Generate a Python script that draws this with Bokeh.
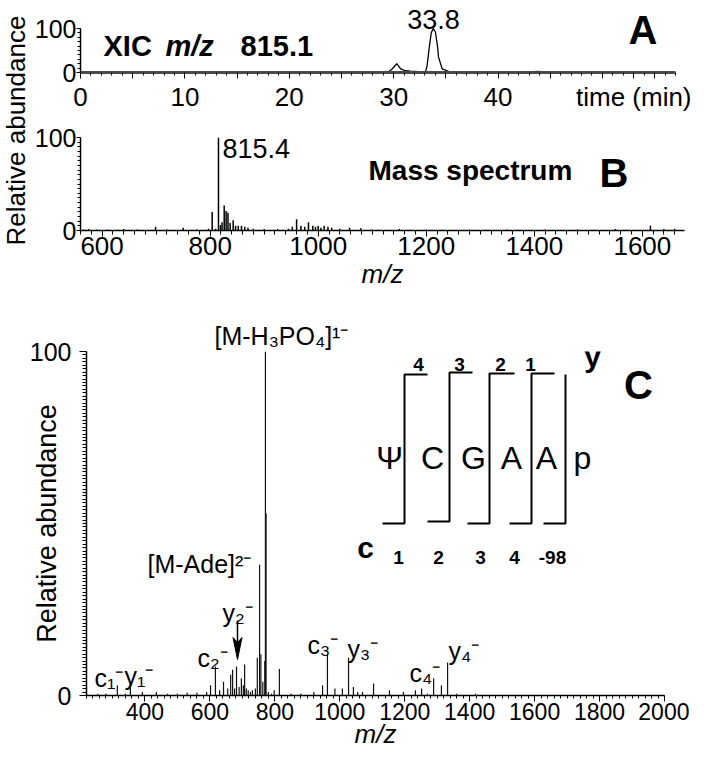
import math
from bokeh.plotting import figure
from bokeh.layouts import column, row
from bokeh.models import Range1d, FixedTicker, Label, ColumnDataSource, Title
from bokeh.embed import file_html
from bokeh.resources import INLINE

FONT = "Liberation Sans"

# ---------------- data ----------------
# Panel A: extracted ion chromatogram m/z 815.1
xic_time = [0, 5.0, 5.4, 5.8, 6.2, 27.0, 29.0, 29.5, 29.85, 30.3, 30.65, 31.1, 31.6, 32.4, 33.05,
            33.2, 33.4, 33.6, 33.8, 34.0, 34.2, 34.3, 34.65, 35.3, 36.0, 41.5, 42.3, 43.0, 43.8,
            44.5, 45.5, 57.0]
xic_intensity = [0, 0, 2, 1, 0, 0, 0.5, 1, 8, 20, 9, 4, 3, 2, 2,
                 15, 55, 90, 100, 92, 60, 35, 8, 2, 0.5, 0.5, 2, 1.5, 2.5,
                 1.5, 0.5, 0]
xic_ticks = [0, 10, 20, 30, 40]

# Panel B: mass spectrum
ms_mz = [566, 575, 590, 610, 640, 665, 699, 720, 750, 775, 797, 803.7, 810, 815.4, 819, 822,
         826, 829.5, 833, 837, 842.6, 847, 852, 858, 864, 870, 880, 900, 925, 945, 952, 960,
         968, 975, 982, 990, 995, 1000, 1005, 1011, 1018, 1025, 1040, 1058, 1079, 1100, 1150,
         1200, 1280, 1350, 1420, 1480, 1550, 1615, 1640, 1660]
ms_intensity = [1, 1.5, 1, 1, 1.5, 1, 4, 1, 3, 1, 2, 20, 2, 100, 6, 9,
                27, 21, 19, 8, 11, 5, 5, 5, 4, 3, 2, 1.5, 1.5, 2, 4, 12,
                5, 4, 9, 5, 4, 5, 3, 5, 4, 3, 2, 3, 2.5, 1, 1.5,
                1, 1, 1, 1, 1, 1.5, 5, 1.5, 2]
ms_ticks = [600, 800, 1000, 1200, 1400, 1600]

# Panel C: MS/MS spectrum
msms_mz = [255, 280, 315, 340, 355, 392, 435, 470, 500, 530, 560, 590, 602, 617, 630, 642,
           655, 664, 670, 676, 682, 690, 697, 703, 707, 712, 718, 725, 731, 740, 746, 753,
           757, 763, 769, 771, 773, 780, 790, 798, 814, 850, 880, 920, 947, 962, 985, 1008,
           1027, 1042, 1055, 1070, 1104, 1153, 1196, 1233, 1252, 1270, 1289, 1313, 1332, 1360,
           1418]
msms_intensity = [0.5, 0.5, 3, 0.5, 4, 1, 1, 0.5, 0.5, 0.8, 0.8, 1, 3, 8.4, 1.5, 4,
                  2, 6, 7.5, 2, 8.4, 2.5, 5, 3, 9, 2, 1.5, 1, 1.5, 2, 11, 38,
                  12, 4, 10, 100, 53, 1, 0.5, 1.5, 7.7, 0.5, 0.5, 1, 3, 12, 2, 2,
                  11, 2.5, 1, 1, 3.5, 1.5, 1, 1.5, 2, 0.5, 5, 3, 9.6, 0.5,
                  0.5]
msms_ticks = [400, 600, 800, 1000, 1200, 1400, 1600, 1800, 2000]

STRIP_W = 31
TOP_H = 317


def mapper(left, top, w, h, x0, x1, y0, y1):
    """page pixel -> data coordinates for a frame (y0 at bottom, y1 at top)"""
    def f(px, py):
        return (x0 + (px - left) * (x1 - x0) / w,
                y1 - (py - top) * (y1 - y0) / h)
    return f


def base_fig(fw, fh, xr, yr, left, right, top, bottom):
    p = figure(frame_width=fw, frame_height=fh, x_range=Range1d(*xr), y_range=Range1d(*yr),
               output_backend="svg", toolbar_location=None,
               min_border_left=left, min_border_right=right,
               min_border_top=top, min_border_bottom=bottom)
    p.grid.visible = False
    p.outline_line_color = None
    p.background_fill_color = "white"
    p.border_fill_color = "white"
    for ax in (p.xaxis[0], p.yaxis[0]):
        ax.axis_line_color = "black"
        ax.axis_line_width = 1.5
        ax.major_tick_line_color = "black"
        ax.minor_tick_line_color = "black"
        ax.major_tick_in = 0
        ax.minor_tick_in = 0
        ax.major_label_text_font = FONT
        ax.major_label_text_color = "black"
        ax.axis_label_text_font = FONT
        ax.axis_label_text_color = "black"
    return p


def add_text(p, m, px, py, text, size, style="normal", align="left",
             baseline="alphabetic", angle=0.0):
    x, y = m(px, py)
    p.add_layout(Label(x=x, y=y, text=text, text_font=FONT,
                       text_font_size=f"{size}px", text_font_style=style,
                       text_align=align, text_baseline=baseline, angle=angle,
                       text_color="black"))


# ---------------- Panel A ----------------
A_TOP = 163.64  # frame extends up to canvas top; axis limited to 0..100
pa = base_fig(595, 72, (0, 57), (0, A_TOP), 46, 17, 0, 45)
mA = mapper(85, 8, 595, 72, 0, 57, 0, A_TOP)
pa.line(xic_time, xic_intensity, line_color="black", line_width=1.3)
a_major = list(range(0, 56, 5)) + [53]
pa.xaxis.ticker = FixedTicker(ticks=a_major, minor_ticks=list(range(0, 58)))
overrides = {t: "" for t in a_major if t not in xic_ticks}
overrides[53] = "time (min)"
pa.xaxis.major_label_overrides = overrides
pa.xaxis.axis_line_width = 3
pa.xaxis.axis_line_color = "#4a4a4a"
pa.xaxis.major_tick_out = 6
pa.xaxis.minor_tick_out = 3
pa.xaxis.major_label_standoff = 3
pa.xaxis.major_label_text_font_size = "26px"
pa.yaxis.bounds = (0, 100)
pa.yaxis.ticker = FixedTicker(ticks=[0, 100], minor_ticks=list(range(0, 101, 10)))
pa.yaxis.major_tick_out = 4
pa.yaxis.minor_tick_out = 3
pa.yaxis.major_label_standoff = 0
pa.yaxis.major_label_text_font_size = "25px"

add_text(pa, mA, 108, 53, "XIC", 29, "bold")
add_text(pa, mA, 170, 53, "m/z", 29, "bold italic")
add_text(pa, mA, 245, 53, "815.1", 29, "bold")
add_text(pa, mA, 438, 27, "33.8", 27, align="center")
add_text(pa, mA, 633, 37, "A", 40, "bold")

# ---------------- Panel B ----------------
pb = base_fig(604, 93, (560, 1678), (0, 100), 46, 8, 20, 87)
mB = mapper(85, 145, 604, 93, 560, 1678, 0, 100)
srcB = ColumnDataSource(dict(x=ms_mz, y0=[0] * len(ms_mz), y1=ms_intensity))
pb.segment(x0="x", y0="y0", x1="x", y1="y1", source=srcB, line_color="black", line_width=1.5)
pb.xaxis.ticker = FixedTicker(ticks=ms_ticks, minor_ticks=list(range(560, 1680, 20)))
pb.xaxis.major_tick_out = 6
pb.xaxis.minor_tick_out = 4
pb.xaxis.major_label_standoff = 0
pb.xaxis.major_label_text_font_size = "26px"
pb.xaxis.axis_label = "m/z"
pb.xaxis.axis_label_text_font_size = "26px"
pb.xaxis.axis_label_text_font_style = "italic"
pb.xaxis.axis_label_standoff = 1
pb.yaxis.ticker = FixedTicker(ticks=[0, 100], minor_ticks=list(range(0, 101, 5)))
pb.yaxis.major_tick_out = 4
pb.yaxis.minor_tick_out = 3
pb.yaxis.major_label_standoff = 0
pb.yaxis.major_label_text_font_size = "25px"

add_text(pb, mB, 227, 156, "815.4", 27)
add_text(pb, mB, 373, 178, "Mass spectrum", 28, "bold")
add_text(pb, mB, 604, 180, "B", 40, "bold")

# ---------------- Panel C ----------------
pc = base_fig(578, 344, (220, 2000), (0, 100), 86, 25, 34, 58)
mC = mapper(94, 359, 578, 344, 220, 2000, 0, 100)
srcC = ColumnDataSource(dict(x=msms_mz, y0=[0] * len(msms_mz), y1=msms_intensity))
pc.segment(x0="x", y0="y0", x1="x", y1="y1", source=srcC, line_color="#111111", line_width=1.2)
pc.xaxis.ticker = FixedTicker(ticks=msms_ticks, minor_ticks=list(range(220, 2001, 20)))
pc.xaxis.major_tick_out = 6
pc.xaxis.minor_tick_out = 3
pc.xaxis.major_label_standoff = 1
pc.xaxis.major_label_text_font_size = "23px"
pc.xaxis.axis_label = "m/z"
pc.xaxis.axis_label_text_font_size = "26px"
pc.xaxis.axis_label_text_font_style = "italic"
pc.xaxis.axis_label_standoff = -4
pc.yaxis.ticker = FixedTicker(ticks=[0, 100], minor_ticks=list(range(0, 101, 1)))
pc.yaxis.major_tick_out = 7
pc.yaxis.minor_tick_out = 4
pc.yaxis.major_label_standoff = 8
pc.yaxis.major_label_text_font_size = "25px"
pc.yaxis.axis_label = "Relative abundance"
pc.yaxis.axis_label_text_font_size = "27px"
pc.yaxis.axis_label_text_font_style = "normal"
pc.yaxis.axis_label_standoff = -35

# label above the frame
pc.add_layout(Title(text="[M-H\u2083PO\u2084]\u00b9\u207b", align="left", offset=128,
                    vertical_align="bottom", standoff=3, text_font=FONT,
                    text_font_size="25px", text_font_style="normal", text_color="black"),
              "above")

# peak annotations
add_text(pc, mC, 155, 571, "[M-Ade]\u00b2\u207b", 25)
add_text(pc, mC, 230, 620, "y\u2082\u207b", 25)
add_text(pc, mC, 205, 665, "c\u2082\u207b", 25)
add_text(pc, mC, 102, 685, "c\u2081\u207b", 25)
add_text(pc, mC, 132, 683, "y\u2081\u207b", 25)
add_text(pc, mC, 315, 652, "c\u2083\u207b", 25)
add_text(pc, mC, 355, 656, "y\u2083\u207b", 25)
add_text(pc, mC, 417, 680, "c\u2084\u207b", 25)
add_text(pc, mC, 456, 658, "y\u2084\u207b", 25)

# arrow pointing at y2 peak
ax0, ay0 = mC(245, 628)
ax1, ay1 = mC(245, 650)
pc.segment(x0=[ax0], y0=[ay0], x1=[ax1], y1=[ay1], line_color="black", line_width=1.5)
tri = [mC(245, 667), mC(240.5, 645), mC(245, 650), mC(249.5, 645)]
pc.patch([t[0] for t in tri], [t[1] for t in tri], fill_color="black", line_color="black")

# fragmentation scheme
brackets = [
    [(390, 531), (412, 531), (412, 382), (435, 382)],
    [(435, 529), (457, 529), (457, 380), (480, 380)],
    [(475, 531), (497, 531), (497, 381), (522, 381)],
    [(517, 531), (539, 531), (539, 381), (562, 381)],
    [(551, 531), (573, 531), (573, 382)],
]
xs, ys = [], []
for br in brackets:
    pts = [mC(px, py) for px, py in br]
    xs.append([q[0] for q in pts])
    ys.append([q[1] for q in pts])
pc.multi_line(xs, ys, line_color="black", line_width=2)

for ch, cxp in zip(["\u03a8", "C", "G", "A", "A", "p"], [397, 440, 481, 519, 554, 590]):
    add_text(pc, mC, cxp, 465, ch, 32, align="center")
for n, cxp in zip(["4", "3", "2", "1"], [426, 467, 508, 538]):
    add_text(pc, mC, cxp, 372, n, 19, "bold", align="center")
for n, cxp in zip(["1", "2", "3", "4", "-98"], [406, 446, 488, 522, 560]):
    add_text(pc, mC, cxp, 565, n, 19, "bold", align="center")
add_text(pc, mC, 600, 364, "y", 30, "bold", align="center")
add_text(pc, mC, 373, 555, "c", 30, "bold", align="center")
add_text(pc, mC, 646, 392, "C", 40, "bold", align="center")

# ---------------- left strip with the upper y label ----------------
strip = figure(width=STRIP_W, height=TOP_H, x_range=Range1d(0, STRIP_W), y_range=Range1d(0, TOP_H),
               output_backend="svg", toolbar_location=None, x_axis_type=None, y_axis_type=None,
               min_border=0)
strip.grid.visible = False
strip.outline_line_color = None
mS = mapper(8, 8, STRIP_W, TOP_H, 0, STRIP_W, 0, TOP_H)
add_text(strip, mS, 8 + 15.5, 138, "Relative abundance", 26, align="center",
         baseline="middle", angle=math.pi / 2)

layout = column(row(strip, column(pa, pb, spacing=0), spacing=0), pc, spacing=0)

with open("out.html", "w") as f:
    f.write(file_html(layout, INLINE))
